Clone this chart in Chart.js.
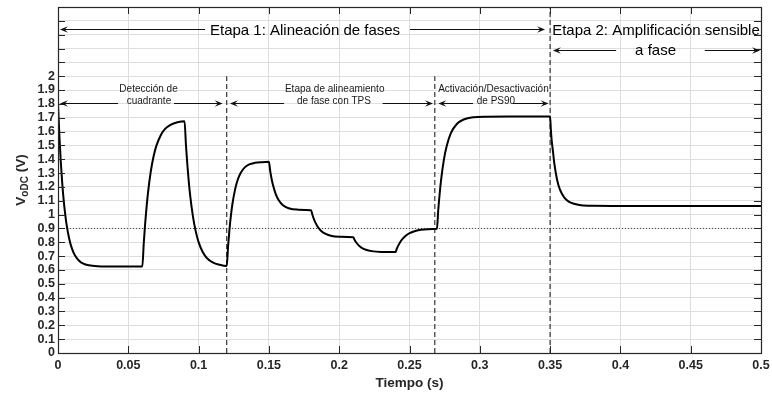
<!DOCTYPE html>
<html>
<head>
<meta charset="utf-8">
<script src="https://cdn.jsdelivr.net/npm/chart.js@4.4.1/dist/chart.umd.min.js"></script>
<style>
  html, body { margin: 0; padding: 0; background: #ffffff; }
  canvas { display: block; }
</style>
</head>
<body>
<canvas id="chart" width="772" height="393"></canvas>
<script>
// Measured DC output voltage over time (s, V)
const timeS = [
  0, 0.001, 0.002, 0.003, 0.004, 0.005, 0.006, 0.008, 0.010, 0.012, 0.015, 0.018, 0.022, 0.028, 0.035, 0.045, 0.060,
  0.061, 0.062, 0.063, 0.064, 0.066, 0.068, 0.070, 0.073, 0.076, 0.080, 0.085, 0.090,
  0.091, 0.092, 0.093, 0.094, 0.096, 0.098, 0.100, 0.103, 0.106, 0.110, 0.115, 0.120,
  0.121, 0.122, 0.123, 0.124, 0.126, 0.128, 0.130, 0.133, 0.136, 0.140, 0.145, 0.150,
  0.151, 0.152, 0.153, 0.155, 0.157, 0.160, 0.164, 0.170, 0.180,
  0.181, 0.182, 0.183, 0.185, 0.187, 0.190, 0.194, 0.200, 0.210,
  0.211, 0.212, 0.214, 0.216, 0.219, 0.223, 0.230, 0.240,
  0.241, 0.242, 0.244, 0.246, 0.249, 0.253, 0.258, 0.263, 0.2695,
  0.2705, 0.2715, 0.2725, 0.2745, 0.2765, 0.2795, 0.2835, 0.2885, 0.2955, 0.305, 0.320, 0.350,
  0.3505, 0.351, 0.352, 0.353, 0.355, 0.357, 0.360, 0.363, 0.367, 0.372, 0.380, 0.400, 0.450, 0.500
];
const vodc = [
  1.80, 1.566, 1.378, 1.228, 1.108, 1.012, 0.935, 0.824, 0.752, 0.707, 0.667, 0.646, 0.634, 0.627, 0.625, 0.625, 0.625,
  0.795, 0.937, 1.056, 1.157, 1.312, 1.421, 1.498, 1.572, 1.617, 1.648, 1.667, 1.675,
  1.503, 1.360, 1.239, 1.139, 0.985, 0.877, 0.801, 0.728, 0.685, 0.655, 0.637, 0.628,
  0.776, 0.898, 0.995, 1.073, 1.184, 1.257, 1.303, 1.343, 1.363, 1.374, 1.379, 1.381,
  1.310, 1.254, 1.210, 1.145, 1.104, 1.068, 1.046, 1.036, 1.032,
  0.997, 0.968, 0.944, 0.908, 0.884, 0.862, 0.847, 0.840, 0.836,
  0.816, 0.800, 0.776, 0.760, 0.746, 0.736, 0.730, 0.729,
  0.754, 0.776, 0.811, 0.835, 0.860, 0.878, 0.890, 0.894, 0.897,
  1.040, 1.156, 1.253, 1.399, 1.497, 1.590, 1.653, 1.687, 1.703, 1.707, 1.708, 1.708,
  1.62, 1.55, 1.46, 1.37, 1.25, 1.18, 1.125, 1.096, 1.078, 1.068, 1.064, 1.063, 1.063, 1.063
];

// Reference level and stage boundaries
const refLevel = 0.9;
const stageTimes = [0.12, 0.268, 0.35];
const stageTops = [2.0, 2.0, 2.5];

// Tick labels
const xTickLabels = ['0', '0.05', '0.1', '0.15', '0.2', '0.25', '0.3', '0.35', '0.4', '0.45', '0.5'];
const yTickLabels = ['0', '0.1', '0.2', '0.3', '0.4', '0.5', '0.6', '0.7', '0.8', '0.9', '1',
  '1.1', '1.2', '1.3', '1.4', '1.5', '1.6', '1.7', '1.8', '1.9', '2'];

const FONT = '"Liberation Sans", Arial, Helvetica, sans-serif';
const AXIS_COLOR = '#262626';

// Stage annotations: arrows [tail t, head t, level V] and text [label, t, baseline V, size]
const arrowSpans = [
  [0.1046, 0.0014, 2.341], [0.2504, 0.3464, 2.341],
  [0.397, 0.352, 2.188], [0.460, 0.4993, 2.188],
  [0.0427, 0.0014, 1.804], [0.0825, 0.1171, 1.804],
  [0.1607, 0.1223, 1.804], [0.2309, 0.2667, 1.804],
  [0.2952, 0.2705, 1.804], [0.3236, 0.3489, 1.804]
];
const stageNotes = [
  ['Etapa 1: Alineación de fases', 0.1757, 2.297, 15],
  ['Etapa 2: Amplificación sensible', 0.4253, 2.297, 15],
  ['a fase', 0.4250, 2.152, 15],
  ['Detección de', 0.0644, 1.889, 10],
  ['cuadrante', 0.0647, 1.801, 10],
  ['Etapa de alineamiento', 0.1968, 1.889, 10],
  ['de fase con TPS', 0.1963, 1.801, 10],
  ['Activación/Desactivación', 0.3097, 1.889, 10],
  ['de PS90', 0.3115, 1.801, 10]
];

const curve = timeS.map((t, i) => ({ x: t, y: vodc[i] }));
const refLine = [{ x: 0, y: refLevel }, { x: 0.5, y: refLevel }];
const stageDatasets = stageTimes.map((t, i) => ({
  data: [{ x: t, y: 0 }, { x: t, y: stageTops[i] }],
  borderColor: '#222222',
  borderWidth: 1.1,
  borderDash: [5, 3],
  pointRadius: 0,
  fill: false,
  order: 2
}));

function drawArrowHead(ctx, x, y, dir) {
  const L = 8, W = 3.2;
  ctx.beginPath();
  ctx.moveTo(x, y);
  ctx.lineTo(x - dir * L, y - W);
  ctx.lineTo(x - dir * L * 0.6, y);
  ctx.lineTo(x - dir * L, y + W);
  ctx.closePath();
  ctx.fill();
}

const framePlugin = {
  id: 'frame',
  afterDraw(chart) {
    const { ctx, chartArea: a, scales: { x, y } } = chart;
    ctx.save();
    // inward tick marks on all sides
    ctx.strokeStyle = AXIS_COLOR;
    ctx.lineWidth = 1;
    const tl = 7;
    ctx.beginPath();
    x.ticks.forEach(tk => {
      const px = Math.round(x.getPixelForValue(tk.value)) + 0.5;
      ctx.moveTo(px, a.bottom); ctx.lineTo(px, a.bottom - tl);
      ctx.moveTo(px, a.top); ctx.lineTo(px, a.top + tl);
    });
    y.ticks.forEach(tk => {
      const py = Math.round(y.getPixelForValue(tk.value)) + 0.5;
      ctx.moveTo(a.left, py); ctx.lineTo(a.left + tl, py);
      ctx.moveTo(a.right, py); ctx.lineTo(a.right - tl, py);
    });
    ctx.stroke();
    // axes box
    ctx.lineWidth = 1.2;
    ctx.strokeRect(Math.round(a.left) + 0.5, Math.round(a.top) + 0.5,
      Math.round(a.right - a.left), Math.round(a.bottom - a.top));

    // stage arrows
    ctx.fillStyle = '#111111';
    ctx.strokeStyle = '#111111';
    ctx.lineWidth = 1;
    arrowSpans.forEach(([t0, t1, v]) => {
      const x0 = x.getPixelForValue(t0), x1 = x.getPixelForValue(t1);
      const py = Math.round(y.getPixelForValue(v)) + 0.5;
      const dir = x1 > x0 ? 1 : -1;
      ctx.beginPath();
      ctx.moveTo(x0, py); ctx.lineTo(x1 - dir * 4, py);
      ctx.stroke();
      drawArrowHead(ctx, x1, py, dir);
    });
    // stage labels
    ctx.textAlign = 'center';
    ctx.textBaseline = 'alphabetic';
    stageNotes.forEach(([txt, t, v, size]) => {
      ctx.font = `${size}px ${FONT}`;
      ctx.fillStyle = size > 12 ? '#000000' : '#1a1a1a';
      ctx.fillText(txt, x.getPixelForValue(t), y.getPixelForValue(v));
    });

    // y-axis title with subscript
    ctx.fillStyle = AXIS_COLOR;
    ctx.translate(21.5, (a.top + a.bottom) / 2);
    ctx.rotate(-Math.PI / 2);
    const big = `bold 13.5px ${FONT}`, small = `bold 10px ${FONT}`;
    ctx.font = big; const w1 = ctx.measureText('V').width;
    ctx.font = small; const w2 = ctx.measureText('oDC').width;
    ctx.font = big; const w3 = ctx.measureText(' (V)').width;
    let cx = -(w1 + w2 + w3) / 2;
    ctx.textAlign = 'left';
    ctx.textBaseline = 'middle';
    ctx.font = big; ctx.fillText('V', cx, 0); cx += w1;
    ctx.font = small; ctx.fillText('oDC', cx, 4); cx += w2;
    ctx.font = big; ctx.fillText(' (V)', cx, 0);
    ctx.restore();
  }
};

new Chart(document.getElementById('chart'), {
  type: 'line',
  data: {
    datasets: [
      {
        data: curve,
        borderColor: '#000000',
        borderWidth: 2,
        pointRadius: 0,
        fill: false,
        cubicInterpolationMode: 'monotone',
        order: 0
      },
      {
        data: refLine,
        borderColor: '#444444',
        borderWidth: 1,
        borderDash: [1, 2],
        pointRadius: 0,
        fill: false,
        order: 1
      },
      ...stageDatasets
    ]
  },
  options: {
    responsive: false,
    animation: false,
    devicePixelRatio: 1,
    layout: { padding: { left: 0, right: 11, top: 7, bottom: 0 } },
    plugins: { legend: { display: false }, tooltip: { enabled: false } },
    scales: {
      x: {
        type: 'linear',
        min: 0,
        max: 0.5,
        border: { display: false },
        grid: { color: '#dedede', lineWidth: 1, drawTicks: false },
        ticks: {
          stepSize: 0.05,
          autoSkip: false,
          maxRotation: 0,
          padding: 5,
          color: AXIS_COLOR,
          font: { family: FONT, size: 12.5, weight: 'bold' },
          callback: (v, i) => xTickLabels[i] ?? ''
        },
        title: {
          display: true,
          text: 'Tiempo (s)',
          color: AXIS_COLOR,
          font: { family: FONT, size: 13.5, weight: 'bold' },
          padding: { top: 0, bottom: 2 }
        },
        afterFit(s) { s.height = 40; s.paddingLeft = 0; s.paddingRight = 0; }
      },
      y: {
        type: 'linear',
        min: 0,
        max: 2.5,
        border: { display: false },
        grid: { color: '#dedede', lineWidth: 1, drawTicks: false },
        ticks: {
          stepSize: 0.1,
          autoSkip: false,
          padding: 3,
          color: AXIS_COLOR,
          font: { family: FONT, size: 12.5, weight: 'bold' },
          callback: (v, i) => yTickLabels[i] ?? ''
        },
        afterFit(s) { s.width = 58; s.paddingTop = 0; s.paddingBottom = 0; }
      }
    }
  },
  plugins: [framePlugin]
});
</script>
</body>
</html>
